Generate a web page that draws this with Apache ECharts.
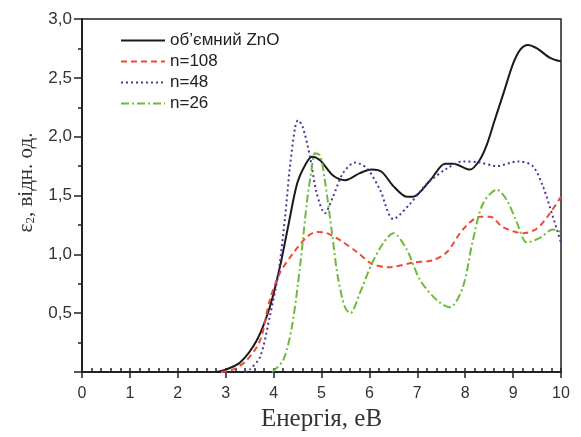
<!DOCTYPE html>
<html>
<head>
<meta charset="utf-8">
<script src="https://cdn.jsdelivr.net/npm/echarts@6/dist/echarts.min.js"></script>
<style>
  html, body { margin: 0; padding: 0; background: #fff; }
  #chart { width: 581px; height: 437px; }
</style>
</head>
<body>
<div id="chart"></div>
<script>
// назви серій
var seriesNames = ['об\u2019ємний ZnO', 'n=108', 'n=48', 'n=26'];

// [енергія, eB ; ε2]
var bulkZnO = [[2.8, 0], [3.0, 0.02], [3.3, 0.08], [3.65, 0.27], [3.92, 0.55], [4.13, 0.89], [4.3, 1.23],
    [4.49, 1.6], [4.66, 1.76], [4.8, 1.83], [4.97, 1.8], [5.24, 1.67], [5.5, 1.63], [5.8, 1.69],
    [6.05, 1.72], [6.26, 1.70], [6.5, 1.58], [6.78, 1.49], [6.91, 1.49], [7.27, 1.63], [7.58, 1.77],
    [7.75, 1.77], [8.1, 1.72], [8.3, 1.8], [8.45, 1.93], [8.6, 2.12], [8.8, 2.37], [9.0, 2.62],
    [9.15, 2.74], [9.31, 2.78], [9.5, 2.75], [9.77, 2.67], [10, 2.64]];

var n108 = [[2.9, 0], [3.15, 0.02], [3.44, 0.1], [3.72, 0.27], [3.92, 0.61], [4.13, 0.84], [4.41, 1.01],
    [4.7, 1.15], [4.9, 1.19], [5.11, 1.18], [5.39, 1.12], [5.74, 1.02], [6.05, 0.92], [6.4, 0.89],
    [6.91, 0.93], [7.33, 0.95], [7.62, 1.02], [7.95, 1.21], [8.31, 1.32], [8.52, 1.32], [8.79, 1.23],
    [9.21, 1.18], [9.5, 1.22], [9.77, 1.35], [10, 1.49]];

var n48 = [[3.4, 0], [3.5, 0.02], [3.72, 0.13], [3.92, 0.47], [4.1, 0.84], [4.24, 1.32], [4.34, 1.74],
    [4.45, 2.08], [4.51, 2.14], [4.61, 2.08], [4.76, 1.83], [4.9, 1.52], [5.07, 1.35], [5.24, 1.49],
    [5.45, 1.69], [5.7, 1.78], [5.95, 1.73], [6.22, 1.55], [6.5, 1.3], [6.85, 1.43], [7.2, 1.6],
    [7.62, 1.73], [7.95, 1.79], [8.31, 1.78], [8.66, 1.75], [9.1, 1.79], [9.41, 1.75], [9.63, 1.57],
    [9.83, 1.32], [10, 1.1]];

var n26 = [[3.97, 0], [4.2, 0.1], [4.38, 0.38], [4.55, 0.89], [4.7, 1.46], [4.8, 1.74], [4.86, 1.86],
    [4.97, 1.84], [5.07, 1.63], [5.22, 1.18], [5.34, 0.81], [5.49, 0.55], [5.6, 0.5], [5.8, 0.67],
    [6.05, 0.92], [6.28, 1.09], [6.5, 1.18], [6.78, 1.04], [7.06, 0.78], [7.41, 0.61], [7.68, 0.55],
    [7.95, 0.72], [8.16, 1.12], [8.37, 1.43], [8.66, 1.55], [8.87, 1.46], [9.08, 1.27], [9.29, 1.1],
    [9.56, 1.14], [9.83, 1.21], [10, 1.19]];

// підписи осей
var xTickLabels = ['0', '1', '2', '3', '4', '5', '6', '7', '8', '9', '10'];
var yTickLabels = ['', '0,5', '1,0', '1,5', '2,0', '2,5', '3,0'];

var myChart = echarts.init(document.getElementById('chart'));

var options = {
    animation: false,
    grid: {
        left: 82,
        right: 20,
        top: 19,
        bottom: 65,
        show: true,
        borderColor: '#222',
        borderWidth: 1.5
    },
    legend: {
        orient: 'vertical',
        left: 115,
        top: 27,
        itemWidth: 44,
        itemHeight: 10,
        itemGap: 4,
        itemStyle: { opacity: 0 },
        textStyle: {
            fontFamily: 'Liberation Sans',
            fontSize: 17,
            color: '#222'
        },
        data: seriesNames
    },
    xAxis: [{
        type: 'value',
        min: 0,
        max: 10,
        interval: 1,
        name: 'Енергія, еВ',
        nameLocation: 'middle',
        nameGap: 27,
        nameTextStyle: {
            fontFamily: 'Liberation Serif',
            fontSize: 25,
            color: '#333'
        },
        axisLine: { lineStyle: { color: '#222', width: 2 } },
        axisTick: { length: 6, lineStyle: { color: '#222', width: 1.5 } },
        axisLabel: {
            fontFamily: 'Liberation Sans',
            fontSize: 16,
            color: '#333',
            margin: 14,
            formatter: function(v) {
                return xTickLabels[Math.round(v)];
            }
        },
        splitLine: { show: false }
    }, {
        // дрібні поділки всередину
        type: 'value',
        position: 'bottom',
        min: 0,
        max: 10,
        interval: 0.2,
        axisLine: { show: false },
        axisTick: { inside: true, length: 4, lineStyle: { color: '#222', width: 1.5 } },
        axisLabel: { show: false },
        splitLine: { show: false }
    }],
    yAxis: {
        type: 'value',
        min: 0,
        max: 3,
        interval: 0.5,
        name: '{a|ε}{s|2}{a|, відн. од.}',
        nameLocation: 'middle',
        nameGap: 42,
        nameRotate: 90,
        nameTextStyle: {
            padding: [0, 0, 0, 26],
            rich: {
                a: { fontFamily: 'Liberation Serif', fontSize: 21, color: '#333' },
                s: { fontFamily: 'Liberation Serif', fontSize: 13, color: '#333', verticalAlign: 'bottom', padding: [9, 0, 0, 0] }
            }
        },
        axisLine: { show: true, lineStyle: { color: '#222', width: 2 } },
        axisTick: { show: true, length: 8, lineStyle: { color: '#222', width: 1.5 } },
        minorTick: { show: true, splitNumber: 2, length: 4, lineStyle: { color: '#222', width: 1.5 } },
        axisLabel: {
            fontFamily: 'Liberation Sans',
            fontSize: 17,
            color: '#333',
            margin: 10,
            formatter: function(v) {
                return yTickLabels[Math.round(v * 2)];
            }
        },
        splitLine: { show: false }
    },
    series: [{
        name: seriesNames[0],
        type: 'line',
        data: bulkZnO,
        smooth: 0.3,
        symbol: 'none',
        color: '#1a1a1a',
        lineStyle: { width: 2, color: '#1a1a1a', type: 'solid' }
    }, {
        name: seriesNames[1],
        type: 'line',
        data: n108,
        smooth: 0.3,
        symbol: 'none',
        color: '#ee4a35',
        lineStyle: { width: 2, color: '#ee4a35', type: [6, 4] }
    }, {
        name: seriesNames[2],
        type: 'line',
        data: n48,
        smooth: 0.3,
        symbol: 'none',
        color: '#5a2e9e',
        lineStyle: { width: 2, color: '#5a2e9e', type: [2, 3] }
    }, {
        name: seriesNames[3],
        type: 'line',
        data: n26,
        smooth: 0.3,
        symbol: 'none',
        color: '#6cbb3a',
        lineStyle: { width: 2, color: '#6cbb3a', type: [8, 3, 2, 3] }
    }]
};
myChart.setOption(options);
</script>
</body>
</html>
